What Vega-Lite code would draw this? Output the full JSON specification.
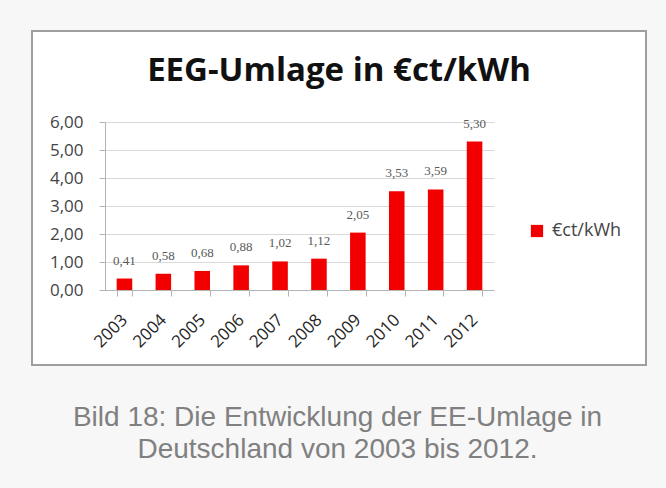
{
  "$schema": "https://vega.github.io/schema/vega-lite/v6.json",
  "width": 614,
  "height": 334,
  "autosize": {"type": "none"},
  "padding": {"left": 32, "top": 31, "right": 20, "bottom": 123},
  "background": "#f7f7f7",
  "title": {
    "text": "EEG-Umlage in €ct/kWh",
    "anchor": "middle",
    "frame": "group",
    "orient": "top",
    "offset": 0,
    "baseline": "alphabetic",
    "dy": 83,
    "font": "Open Sans",
    "fontSize": 33,
    "fontWeight": "bold",
    "color": "#111111"
  },
  "data": {
    "values": [
      {"Jahr": "2003", "Umlage": 0.41},
      {"Jahr": "2004", "Umlage": 0.58},
      {"Jahr": "2005", "Umlage": 0.68},
      {"Jahr": "2006", "Umlage": 0.88},
      {"Jahr": "2007", "Umlage": 1.02},
      {"Jahr": "2008", "Umlage": 1.12},
      {"Jahr": "2009", "Umlage": 2.05},
      {"Jahr": "2010", "Umlage": 3.53},
      {"Jahr": "2011", "Umlage": 3.59},
      {"Jahr": "2012", "Umlage": 5.30}
    ]
  },
  "encoding": {
    "x": {
      "field": "Jahr",
      "type": "ordinal",
      "scale": {"range": [73, 462], "paddingInner": 0.6, "paddingOuter": 0.3},
      "axis": {
        "offset": -75,
        "tickBand": "extent",
        "domainColor": "#b3b3b3",
        "tickColor": "#b3b3b3",
        "tickSize": 6,
        "labelAngle": -45,
        "labelAlign": "right",
        "labelBaseline": "middle",
        "labelPadding": 21,
        "labelFont": "Open Sans",
        "labelFontSize": 17,
        "labelColor": "#262626",
        "title": ["Bild 18: Die Entwicklung der EE-Umlage in", "Deutschland von 2003 bis 2012."],
        "titleX": 305,
        "titleY": 135,
        "titleAlign": "center",
        "titleAnchor": null,
        "titleBaseline": "alphabetic",
        "titleLineHeight": 32,
        "titleFont": "Liberation Sans",
        "titleFontSize": 28,
        "titleFontWeight": "normal",
        "titleColor": "#808080",
        "titleLimit": 2000
      }
    },
    "y": {
      "field": "Umlage",
      "type": "quantitative",
      "scale": {"domain": [0, 6], "range": [259, 91], "nice": false},
      "axis": {
        "offset": -73,
        "values": [0, 1, 2, 3, 4, 5, 6],
        "format": ".2f",
        "domainColor": "#b3b3b3",
        "tickColor": "#b3b3b3",
        "tickSize": 6,
        "gridColor": "#d9d9d9",
        "labelPadding": 16,
        "labelFont": "Open Sans",
        "labelFontSize": 17,
        "labelColor": "#444444",
        "title": null
      }
    }
  },
  "layer": [
    {
      "mark": {"type": "bar"},
      "encoding": {
        "color": {
          "datum": "€ct/kWh",
          "type": "nominal",
          "scale": {"range": ["#f20000"]},
          "legend": {
            "title": null,
            "orient": "none",
            "legendX": 496,
            "legendY": 191,
            "padding": 0,
            "symbolType": "square",
            "symbolSize": 150,
            "symbolStrokeWidth": 0,
            "labelFont": "Open Sans",
            "labelFontSize": 18,
            "labelColor": "#444444",
            "labelOffset": 6
          }
        }
      }
    },
    {
      "mark": {"type": "text", "baseline": "bottom", "dy": -11, "font": "Liberation Serif", "fontSize": 13, "color": "#595959"},
      "encoding": {
        "text": {"field": "Umlage", "type": "quantitative", "format": ".2f"}
      }
    }
  ],
  "config": {
    "locale": {"number": {"decimal": ",", "thousands": ".", "grouping": [3], "currency": ["", " €"]}},
    "view": {"stroke": "#9e9e9e", "strokeWidth": 2, "fill": "#ffffff"}
  }
}
